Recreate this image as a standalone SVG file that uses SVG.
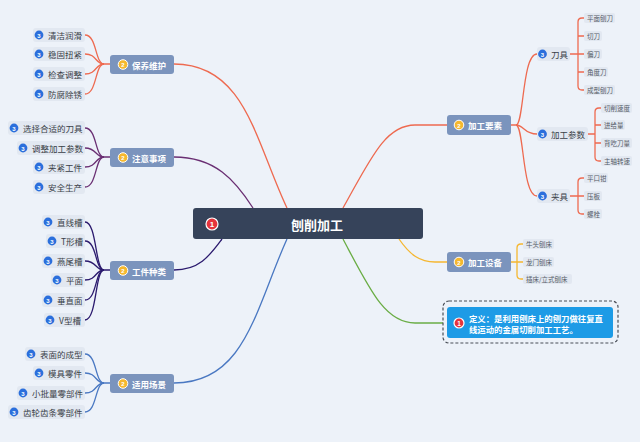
<svg xmlns="http://www.w3.org/2000/svg" width="640" height="442" viewBox="0 0 640 442">
<style>
.bg{fill:#edf2f9}
.l2{fill:#7b94bd}
.l2t{font-family:"Noto Sans CJK SC","Noto Sans",sans-serif;font-size:8.5px;font-weight:bold;fill:#fff;dominant-baseline:central}
.l3{fill:#e2e8f1}
.l3t{font-family:"Noto Sans CJK SC","Noto Sans",sans-serif;font-size:8.5px;fill:#3a3f48;dominant-baseline:central}
.l4{fill:#e2e8f1}
.l4t{font-family:"Noto Sans CJK SC","Noto Sans",sans-serif;font-size:6.5px;fill:#555b66;dominant-baseline:central}
.b3{fill:#2b6fdc}
.b2{fill:#f5b82e;stroke:#fff;stroke-width:1}
.b1{fill:#e6343c;stroke:#fff;stroke-width:1.2}
.bt{font-family:"Liberation Sans",sans-serif;font-weight:bold;fill:#fff;text-anchor:middle;dominant-baseline:central}
.c{fill:none;stroke-width:1.3}
.or{stroke:#ee6a50}
.pu{stroke:#6a2f73}
.nv{stroke:#2b1a6e}
.bl{stroke:#4a78c2}
.ye{stroke:#f5b731}
.gr{stroke:#6aad45}
</style>
<rect class="bg" x="0" y="0" width="640" height="442"/>

<g id="connectors">
  <path class="c or" d="M174,64 C245,64 255,140 287,208"/>
  <path class="c pu" d="M174,157 C215,157 235,180 253,208"/>
  <path class="c nv" d="M174,270 C200,270 210,255 222,239"/>
  <path class="c bl" d="M174,383 C245,383 255,310 287,239"/>
  <path class="c or" d="M343,208 C370,160 385,125 415,125 L447,125"/>
  <path class="c ye" d="M399,239 C410,255 420,262 435,262 H447"/>
  <path class="c gr" d="M343,239 C370,290 385,323 415,323 H443"/>
  <path class="c or" d="M85,35 C97,35 95,64 104,64 H110"/>
  <path class="c or" d="M85,54 C97,54 95,64 104,64"/>
  <path class="c or" d="M85,74 C97,74 95,64 104,64"/>
  <path class="c or" d="M85,94 C97,94 95,64 104,64"/>
  <path class="c pu" d="M85,128 C97,128 95,157 104,157 H110"/>
  <path class="c pu" d="M85,148 C97,148 95,157 104,157"/>
  <path class="c pu" d="M85,167 C97,167 95,157 104,157"/>
  <path class="c pu" d="M85,187 C97,187 95,157 104,157"/>
  <path class="c nv" d="M85,222 C97,222 95,270 104,270 H110"/>
  <path class="c nv" d="M85,241 C97,241 95,270 104,270"/>
  <path class="c nv" d="M85,261 C97,261 95,270 104,270"/>
  <path class="c nv" d="M85,280 C97,280 95,270 104,270"/>
  <path class="c nv" d="M85,300 C97,300 95,270 104,270"/>
  <path class="c nv" d="M85,320 C97,320 95,270 104,270"/>
  <path class="c bl" d="M85,354 C97,354 95,383 104,383 H110"/>
  <path class="c bl" d="M85,373 C97,373 95,383 104,383"/>
  <path class="c bl" d="M85,393 C97,393 95,383 104,383"/>
  <path class="c bl" d="M85,412 C97,412 95,383 104,383"/>
  <path class="c or" d="M511,125 H516 C524,125 522,54 537,54"/>
  <path class="c or" d="M516,125 C524,125 524,134 537,134"/>
  <path class="c or" d="M516,125 C524,125 522,196 537,196"/>
  <path class="c or" d="M570,54 H584 M584,18 H582 Q578,18 578,22 V86 Q578,90 582,90 H584 M578,36 H584 M578,72 H584"/>
  <path class="c or" d="M588,134 H595 M601,108 H599 Q595,108 595,112 V157 Q595,161 599,161 H601 M595,125 H601 M595,143 H601"/>
  <path class="c or" d="M570,196 H584 M584,178 H582 Q578,178 578,182 V210 Q578,214 582,214 H584"/>
  <path class="c ye" d="M511,262 H523 M523,244 H521 Q517,244 517,248 V275 Q517,279 521,279 H523"/>
</g>

<g id="central">
  <rect x="193" y="208" width="230" height="31" rx="3" fill="#36435a"/>
  <circle class="b1" cx="212" cy="224" r="6"/>
  <text class="bt" x="212" y="224.5" font-size="8">1</text>
  <text x="317" y="224" font-family="Noto Sans CJK SC,Noto Sans,sans-serif" font-size="13" font-weight="bold" fill="#fff" text-anchor="middle" dominant-baseline="central">刨削加工</text>
</g>

<g id="n-baoyang">
  <rect class="l2" x="110" y="55" width="64" height="19" rx="3"/>
  <circle class="b2" cx="123" cy="64.5" r="4.8"/><text class="bt" x="123" y="65" font-size="6">2</text>
  <text class="l2t" x="132" y="64.5">保养维护</text>
</g>
<g id="n-zhuyi">
  <rect class="l2" x="110" y="148" width="64" height="19" rx="3"/>
  <circle class="b2" cx="123" cy="157.5" r="4.8"/><text class="bt" x="123" y="158" font-size="6">2</text>
  <text class="l2t" x="132" y="157.5">注意事项</text>
</g>
<g id="n-gongjian">
  <rect class="l2" x="110" y="261" width="64" height="19" rx="3"/>
  <circle class="b2" cx="123" cy="270.5" r="4.8"/><text class="bt" x="123" y="271" font-size="6">2</text>
  <text class="l2t" x="132" y="270.5">工件种类</text>
</g>
<g id="n-shiyong">
  <rect class="l2" x="110" y="374" width="64" height="19" rx="3"/>
  <circle class="b2" cx="123" cy="383.5" r="4.8"/><text class="bt" x="123" y="384" font-size="6">2</text>
  <text class="l2t" x="132" y="383.5">适用场景</text>
</g>
<g id="n-yaosu">
  <rect class="l2" x="447" y="115" width="64" height="20" rx="3"/>
  <circle class="b2" cx="459" cy="125" r="4.8"/><text class="bt" x="459" y="125.5" font-size="6">2</text>
  <text class="l2t" x="468" y="125">加工要素</text>
</g>
<g id="n-shebei">
  <rect class="l2" x="447" y="252" width="64" height="20" rx="3"/>
  <circle class="b2" cx="459" cy="262" r="4.8"/><text class="bt" x="459" y="262.5" font-size="6">2</text>
  <text class="l2t" x="468" y="262">加工设备</text>
</g>

<g id="n-qingjie"><rect class="l3" x="33" y="28" width="52" height="14" rx="3"/><circle class="b3" cx="39" cy="35" r="4.4"/><text class="bt" x="39" y="35.5" font-size="6">3</text><text class="l3t" x="48" y="35">清洁润滑</text></g>
<g id="n-wengu"><rect class="l3" x="33" y="47" width="52" height="14" rx="3"/><circle class="b3" cx="39" cy="54" r="4.4"/><text class="bt" x="39" y="54.5" font-size="6">3</text><text class="l3t" x="48" y="54">稳固扭紧</text></g>
<g id="n-jiancha"><rect class="l3" x="33" y="67" width="52" height="14" rx="3"/><circle class="b3" cx="39" cy="74" r="4.4"/><text class="bt" x="39" y="74.5" font-size="6">3</text><text class="l3t" x="48" y="74">检查调整</text></g>
<g id="n-fangfu"><rect class="l3" x="33" y="87" width="52" height="14" rx="3"/><circle class="b3" cx="39" cy="94" r="4.4"/><text class="bt" x="39" y="94.5" font-size="6">3</text><text class="l3t" x="48" y="94">防腐除锈</text></g>

<g id="n-xuanze"><rect class="l3" x="8" y="121" width="77" height="14" rx="3"/><circle class="b3" cx="14" cy="128" r="4.4"/><text class="bt" x="14" y="128.5" font-size="6">3</text><text class="l3t" x="23" y="128">选择合适的刀具</text></g>
<g id="n-tiaozheng"><rect class="l3" x="17" y="141" width="68" height="14" rx="3"/><circle class="b3" cx="23" cy="148" r="4.4"/><text class="bt" x="23" y="148.5" font-size="6">3</text><text class="l3t" x="32" y="148">调整加工参数</text></g>
<g id="n-jiajin"><rect class="l3" x="33" y="160" width="52" height="14" rx="3"/><circle class="b3" cx="39" cy="167" r="4.4"/><text class="bt" x="39" y="167.5" font-size="6">3</text><text class="l3t" x="48" y="167">夹紧工件</text></g>
<g id="n-anquan"><rect class="l3" x="33" y="180" width="52" height="14" rx="3"/><circle class="b3" cx="39" cy="187" r="4.4"/><text class="bt" x="39" y="187.5" font-size="6">3</text><text class="l3t" x="48" y="187">安全生产</text></g>

<g id="n-zhixian"><rect class="l3" x="42" y="215" width="43" height="14" rx="3"/><circle class="b3" cx="48" cy="222" r="4.4"/><text class="bt" x="48" y="222.5" font-size="6">3</text><text class="l3t" x="57" y="222">直线槽</text></g>
<g id="n-txing"><rect class="l3" x="46" y="234" width="39" height="14" rx="3"/><circle class="b3" cx="52" cy="241" r="4.4"/><text class="bt" x="52" y="241.5" font-size="6">3</text><text class="l3t" x="61" y="241">T形槽</text></g>
<g id="n-yanwei"><rect class="l3" x="42" y="254" width="43" height="14" rx="3"/><circle class="b3" cx="48" cy="261" r="4.4"/><text class="bt" x="48" y="261.5" font-size="6">3</text><text class="l3t" x="57" y="261">燕尾槽</text></g>
<g id="n-pingmian"><rect class="l3" x="51" y="273" width="34" height="14" rx="3"/><circle class="b3" cx="57" cy="280" r="4.4"/><text class="bt" x="57" y="280.5" font-size="6">3</text><text class="l3t" x="66" y="280">平面</text></g>
<g id="n-chuizhi"><rect class="l3" x="42" y="293" width="43" height="14" rx="3"/><circle class="b3" cx="48" cy="300" r="4.4"/><text class="bt" x="48" y="300.5" font-size="6">3</text><text class="l3t" x="57" y="300">垂直面</text></g>
<g id="n-vxing"><rect class="l3" x="44" y="313" width="41" height="14" rx="3"/><circle class="b3" cx="50" cy="320" r="4.4"/><text class="bt" x="50" y="320.5" font-size="6">3</text><text class="l3t" x="59" y="320">V型槽</text></g>

<g id="n-biaomian"><rect class="l3" x="25" y="347" width="60" height="14" rx="3"/><circle class="b3" cx="31" cy="354" r="4.4"/><text class="bt" x="31" y="354.5" font-size="6">3</text><text class="l3t" x="40" y="354">表面的成型</text></g>
<g id="n-moju"><rect class="l3" x="33" y="366" width="52" height="14" rx="3"/><circle class="b3" cx="39" cy="373" r="4.4"/><text class="bt" x="39" y="373.5" font-size="6">3</text><text class="l3t" x="48" y="373">模具零件</text></g>
<g id="n-xiaopi"><rect class="l3" x="17" y="386" width="68" height="14" rx="3"/><circle class="b3" cx="23" cy="393" r="4.4"/><text class="bt" x="23" y="393.5" font-size="6">3</text><text class="l3t" x="32" y="393">小批量零部件</text></g>
<g id="n-chilun"><rect class="l3" x="8" y="405" width="77" height="14" rx="3"/><circle class="b3" cx="14" cy="412" r="4.4"/><text class="bt" x="14" y="412.5" font-size="6">3</text><text class="l3t" x="23" y="412">齿轮齿条零部件</text></g>

<g id="n-daoju"><rect class="l3" x="537" y="47" width="33" height="14" rx="3"/><circle class="b3" cx="542.5" cy="54" r="4.4"/><text class="bt" x="542.5" y="54.5" font-size="6">3</text><text class="l3t" x="551" y="54">刀具</text></g>
<g id="n-canshu"><rect class="l3" x="537" y="127" width="51" height="14" rx="3"/><circle class="b3" cx="542.5" cy="134" r="4.4"/><text class="bt" x="542.5" y="134.5" font-size="6">3</text><text class="l3t" x="551" y="134">加工参数</text></g>
<g id="n-jiaju"><rect class="l3" x="537" y="189" width="33" height="14" rx="3"/><circle class="b3" cx="542.5" cy="196" r="4.4"/><text class="bt" x="542.5" y="196.5" font-size="6">3</text><text class="l3t" x="551" y="196">夹具</text></g>

<g id="n-pmbd"><rect class="l4" x="584" y="13" width="31" height="10" rx="2"/><text class="l4t" x="587" y="18">平面刨刀</text></g>
<g id="n-qd"><rect class="l4" x="584" y="31" width="18" height="10" rx="2"/><text class="l4t" x="587" y="36">切刀</text></g>
<g id="n-pd"><rect class="l4" x="584" y="49" width="18" height="10" rx="2"/><text class="l4t" x="587" y="54">偏刀</text></g>
<g id="n-jdd"><rect class="l4" x="584" y="67" width="24" height="10" rx="2"/><text class="l4t" x="587" y="72">角度刀</text></g>
<g id="n-cxbd"><rect class="l4" x="584" y="85" width="31" height="10" rx="2"/><text class="l4t" x="587" y="90">成型刨刀</text></g>

<g id="n-qxsd"><rect class="l4" x="601" y="103" width="31" height="10" rx="2"/><text class="l4t" x="604" y="108">切削速度</text></g>
<g id="n-jjl"><rect class="l4" x="601" y="120" width="24" height="10" rx="2"/><text class="l4t" x="604" y="125">进给量</text></g>
<g id="n-bcdl"><rect class="l4" x="601" y="138" width="31" height="10" rx="2"/><text class="l4t" x="604" y="143">背吃刀量</text></g>
<g id="n-zzzs"><rect class="l4" x="601" y="156" width="31" height="10" rx="2"/><text class="l4t" x="604" y="161">主轴转速</text></g>

<g id="n-pkq"><rect class="l4" x="584" y="173" width="24" height="10" rx="2"/><text class="l4t" x="587" y="178">平口钳</text></g>
<g id="n-yb"><rect class="l4" x="584" y="191" width="18" height="10" rx="2"/><text class="l4t" x="587" y="196">压板</text></g>
<g id="n-ls"><rect class="l4" x="584" y="209" width="18" height="10" rx="2"/><text class="l4t" x="587" y="214">螺栓</text></g>

<g id="n-ntbc"><rect class="l4" x="523" y="239" width="31" height="10" rx="2"/><text class="l4t" x="526" y="244">牛头刨床</text></g>
<g id="n-lmbc"><rect class="l4" x="523" y="257" width="31" height="10" rx="2"/><text class="l4t" x="526" y="262">龙门刨床</text></g>
<g id="n-cc"><rect class="l4" x="523" y="274" width="49" height="10" rx="2"/><text class="l4t" x="526" y="279">插床/立式刨床</text></g>

<g id="n-def">
  <rect x="443" y="301" width="175" height="42" rx="6" fill="none" stroke="#4a4f58" stroke-width="1.2" stroke-dasharray="3,2"/>
  <rect x="447" y="307" width="166" height="31" rx="3" fill="#1d9be6"/>
  <circle class="b1" cx="459" cy="323" r="5"/><text class="bt" x="459" y="323.5" font-size="6.5">1</text>
  <text x="469" y="318" font-family="Noto Sans CJK SC,Noto Sans,sans-serif" font-size="8.4" font-weight="bold" fill="#fff" dominant-baseline="central">定义：是利用刨床上的刨刀做往复直</text>
  <text x="469" y="329" font-family="Noto Sans CJK SC,Noto Sans,sans-serif" font-size="8.4" font-weight="bold" fill="#fff" dominant-baseline="central">线运动的金属切削加工工艺。</text>
</g>
</svg>
